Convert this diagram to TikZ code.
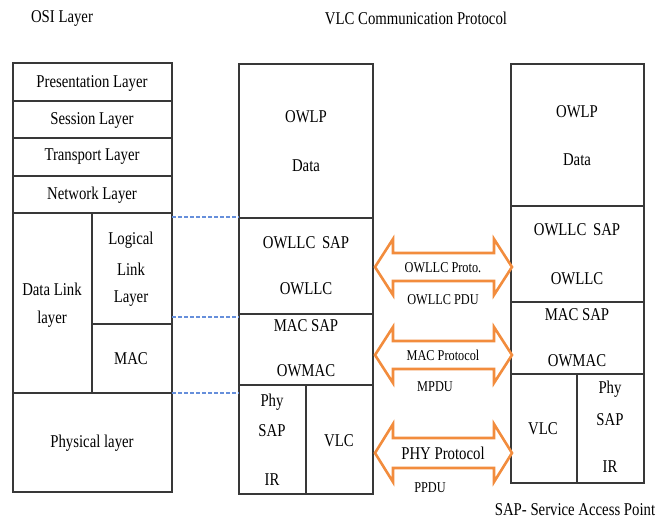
\documentclass[tikz,border=0pt]{standalone}
\usepackage{fontspec}
\setmainfont[FakeStretch=0.82]{Liberation Serif}
\definecolor{boxgray}{rgb}{0.22, 0.22, 0.22}
\definecolor{dashblue}{rgb}{0.4, 0.56, 0.86}
\definecolor{arroworange}{rgb}{0.95, 0.55, 0.24}

\begin{document}
\begin{tikzpicture}[x=1pt, y=-1pt]
    \tikzstyle{box_style} = [draw=boxgray, line width=1.4pt]
    \tikzstyle{dash_style} = [dashblue, line width=1.3pt, dash pattern=on 3.5pt off 2.5pt]
    \tikzstyle{arrow_style} = [draw=arroworange, line width=2.6pt, line join=miter, fill=white]
    \tikzstyle{txt} = [inner sep=0pt, font=\rmfamily\fontsize{18}{20}\selectfont]
    \tikzstyle{small_txt} = [inner sep=0pt, font=\rmfamily\fontsize{15}{17}\selectfont]

    \useasboundingbox (0,0) rectangle (657,519);

    % titles
    \node[txt] (osi_title) at (62,18) {OSI Layer};
    \node[txt] (vlc_title) at (416,18) {VLC Communication Protocol};
    \node[txt] (sap_note) at (575,510) {SAP- Service Access Point};

    % OSI stack
    \begin{scope}
      \draw[box_style] (13,63) rectangle (172,492);
      \draw[box_style] (13,101) -- (172,101);
      \draw[box_style] (13,138) -- (172,138);
      \draw[box_style] (13,176) -- (172,176);
      \draw[box_style] (13,213) -- (172,213);
      \draw[box_style] (92,213) -- (92,393);
      \draw[box_style] (92,324) -- (172,324);
      \draw[box_style] (13,393) -- (172,393);
      \node[txt] (presentation) at (92,83) {Presentation Layer};
      \node[txt] (session) at (92,120) {Session Layer};
      \node[txt] (transport) at (92,157) {Transport Layer};
      \node[txt] (network) at (92,195) {Network Layer};
      \node[txt] (logical) at (131,240) {Logical};
      \node[txt] (link) at (131,269) {Link};
      \node[txt] (llc_layer) at (131,299) {Layer};
      \node[txt] (datalink) at (52,289) {Data Link};
      \node[txt] (dl_layer) at (52,319) {layer};
      \node[txt] (osi_mac) at (131,359) {MAC};
      \node[txt] (physical) at (92,443) {Physical layer};
    \end{scope}

    % VLC stack (sender)
    \begin{scope}
      \draw[box_style] (239,64) rectangle (373,494);
      \draw[box_style] (239,218) -- (373,218);
      \draw[box_style] (239,314) -- (373,314);
      \draw[box_style] (239,385) -- (373,385);
      \draw[box_style] (306,385) -- (306,494);
      \node[txt] (owlp_a) at (306,117) {OWLP};
      \node[txt] (data_a) at (306,166) {Data};
      \node[txt] (llcsap_a) at (306,243) {OWLLC\, SAP};
      \node[txt] (owllc_a) at (306,289) {OWLLC};
      \node[txt] (macsap_a) at (306,326) {MAC SAP};
      \node[txt] (owmac_a) at (306,371) {OWMAC};
      \node[txt] (phy_a) at (272,402) {Phy};
      \node[txt] (physap_a) at (272,431) {SAP};
      \node[txt] (ir_a) at (272,480) {IR};
      \node[txt] (vlc_a) at (339,441) {VLC};
    \end{scope}

    % VLC stack (receiver)
    \begin{scope}
      \draw[box_style] (511,64) rectangle (644,483);
      \draw[box_style] (511,206) -- (644,206);
      \draw[box_style] (511,302) -- (644,302);
      \draw[box_style] (511,374) -- (644,374);
      \draw[box_style] (577,374) -- (577,483);
      \node[txt] (owlp_b) at (577,112) {OWLP};
      \node[txt] (data_b) at (577,160) {Data};
      \node[txt] (llcsap_b) at (577,230) {OWLLC\, SAP};
      \node[txt] (owllc_b) at (577,279) {OWLLC};
      \node[txt] (macsap_b) at (577,315) {MAC SAP};
      \node[txt] (owmac_b) at (577,361) {OWMAC};
      \node[txt] (vlc_b) at (543,429) {VLC};
      \node[txt] (phy_b) at (610,389) {Phy};
      \node[txt] (physap_b) at (610,420) {SAP};
      \node[txt] (ir_b) at (610,467) {IR};
    \end{scope}

    % dashed links OSI -> VLC
    \coordinate (osi_llc) at (172,217);
    \coordinate (osi_mac_top) at (172,317);
    \coordinate (osi_phy) at (172,393);
    \coordinate (vlc_llc) at (239,217);
    \coordinate (vlc_mac) at (239,317);
    \coordinate (vlc_phy) at (239,393);
    \draw[dash_style] (osi_llc) -- (vlc_llc);
    \draw[dash_style] (osi_mac_top) -- (vlc_mac);
    \draw[dash_style] (osi_phy) -- (vlc_phy);

    % peer protocol arrows
    \def\xl{375}
    \def\xr{512}
    \def\hl{18}
    \draw[arrow_style] (\xl,267) -- ++(\hl,-28) -- ++(0,14) -- (\xr-\hl,253) -- ++(0,-14) -- (\xr,267)
      -- ++(-\hl,28) -- ++(0,-14) -- (\xl+\hl,281) -- ++(0,14) -- cycle;
    \draw[arrow_style] (\xl,355) -- ++(\hl,-28) -- ++(0,14) -- (\xr-\hl,341) -- ++(0,-14) -- (\xr,355)
      -- ++(-\hl,28) -- ++(0,-14) -- (\xl+\hl,369) -- ++(0,14) -- cycle;
    \draw[arrow_style] (\xl,453) -- ++(\hl,-29) -- ++(0,14) -- (\xr-\hl,438) -- ++(0,-14) -- (\xr,453)
      -- ++(-\hl,29) -- ++(0,-14) -- (\xl+\hl,468) -- ++(0,14) -- cycle;

    \node[small_txt] (llc_proto) at (443,268) {OWLLC Proto.};
    \node[small_txt] (llc_pdu) at (443,300) {OWLLC PDU};
    \node[small_txt] (mac_proto) at (443,355) {MAC Protocol};
    \node[small_txt] (mpdu) at (435,387) {MPDU};
    \node[txt] (phy_proto) at (443,453) {PHY Protocol};
    \node[small_txt] (ppdu) at (430,488) {PPDU};
\end{tikzpicture}
\end{document}
